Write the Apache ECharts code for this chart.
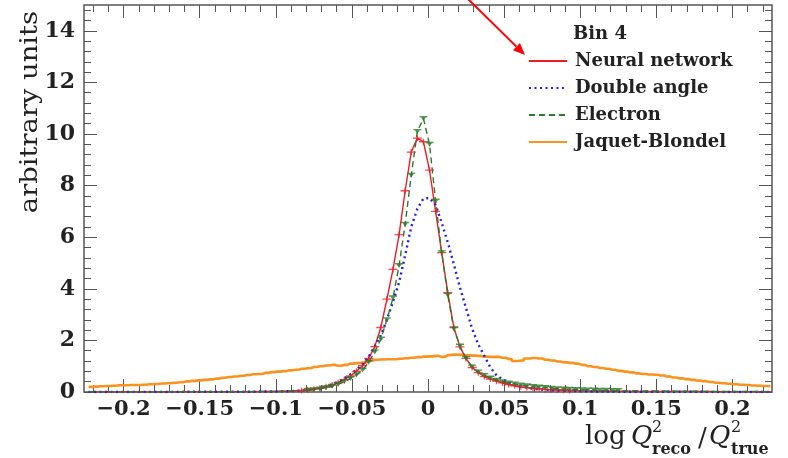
<!DOCTYPE html>
<html><head><meta charset="utf-8">
<script src="https://cdn.jsdelivr.net/npm/echarts@6/dist/echarts.min.js"></script>
<style>html,body{margin:0;padding:0;background:#fff}#c{width:788px;height:458px}</style>
</head><body><div id="c"></div>
<script>
// histogram bin centres (bin width 0.004)
const binCenters = Array.from({length: 113}, (_, i) => Math.round((-0.223 + 0.004 * i) * 1000) / 1000);

const neuralNetwork = [
  0,0,0,0,0,0,0,0,0,0,
  0,0,0,0,0,0,0.01,0.01,0.01,0.01,
  0.01,0.01,0.01,0.01,0.01,0.01,0.01,0.01,0.02,0.02,
  0.02,0.03,0.03,0.04,0.05,0.06,0.08,0.11,0.15,0.2,
  0.27,0.36,0.48,0.62,0.8,1.02,1.3,1.76,2.5,3.6,
  4.75,6.1,7.8,9.3,9.84,9.7,8.6,7.0,5.4,3.85,
  2.5,1.75,1.3,0.95,0.75,0.6,0.5,0.42,0.35,0.29,
  0.24,0.2,0.17,0.14,0.12,0.1,0.09,0.08,0.07,0.06,
  0.05,0.05,0.04,0.04,0.04,0.03,0.03,0.03,0.03,0.02,
  0.02,0.02,0.02,0.02,0.02,0.02,0.02,0.02,0.02,0.02,
  0.02,0.02,0.02,0.01,0.01,0.01,0.01,0.01,0.01,0.01,
  0.01,0.01,0.01
];
const doubleAngle = [
  0,0,0,0,0,0,0,0,0,0,
  0,0,0,0,0,0,0.01,0.01,0.01,0.01,
  0.01,0.01,0.01,0.01,0.01,0.01,0.01,0.01,0.02,0.02,
  0.02,0.02,0.03,0.03,0.04,0.06,0.08,0.11,0.15,0.22,
  0.3,0.4,0.53,0.68,0.86,1.08,1.37,1.76,2.2,2.8,
  3.5,4.25,5.3,6.4,7.1,7.5,7.52,7.25,6.56,5.8,
  4.95,4.05,3.25,2.45,1.85,1.4,0.95,0.65,0.48,0.36,
  0.28,0.22,0.17,0.13,0.1,0.08,0.07,0.06,0.05,0.04,
  0.04,0.03,0.03,0.02,0.02,0.02,0.02,0.01,0.01,0.01,
  0.01,0.01,0.01,0.01,0.01,0.01,0.01,0.01,0.01,0.01,
  0.01,0.01,0,0,0,0,0,0,0,0,
  0,0,0
];
const electron = [
  0,0,0,0,0,0,0,0,0,0,
  0,0,0,0,0,0.01,0.01,0.01,0.01,0.01,
  0.01,0.01,0.01,0.01,0.01,0.01,0.01,0.02,0.02,0.02,
  0.02,0.02,0.03,0.03,0.04,0.05,0.07,0.09,0.12,0.16,
  0.22,0.3,0.4,0.52,0.66,0.85,1.15,1.55,2.05,2.8,
  3.65,4.9,6.5,8.4,10.1,10.6,9.6,7.4,5.4,3.75,
  2.45,1.78,1.3,0.97,0.78,0.64,0.54,0.46,0.4,0.35,
  0.31,0.27,0.24,0.21,0.19,0.17,0.15,0.13,0.12,0.11,
  0.1,0.09,0.08,0.08,0.07,0.07,0.06,0.06,0.05,0.05,
  0.05,0.04,0.04,0.04,0.04,0.03,0.03,0.03,0.03,0.03,
  0.03,0.02,0.02,0.02,0.02,0.02,0.02,0.02,0.02,0.02,
  0.02,0.01,0.01
];
const jaquetBlondel = [
  0.2,0.21,0.22,0.23,0.24,0.26,0.26,0.27,0.27,0.28,
  0.3,0.31,0.33,0.34,0.36,0.38,0.41,0.43,0.45,0.47,
  0.49,0.52,0.55,0.58,0.6,0.63,0.66,0.69,0.7,0.74,
  0.77,0.79,0.81,0.84,0.86,0.9,0.92,0.97,1.0,1.03,
  1.05,1.02,1.05,1.1,1.12,1.14,1.2,1.25,1.26,1.27,
  1.27,1.29,1.31,1.33,1.35,1.37,1.38,1.4,1.36,1.43,
  1.45,1.44,1.42,1.41,1.4,1.37,1.36,1.36,1.33,1.28,
  1.2,1.22,1.3,1.32,1.3,1.25,1.22,1.18,1.15,1.13,
  1.1,1.05,1.0,0.97,0.93,0.9,0.86,0.82,0.79,0.76,
  0.72,0.7,0.68,0.67,0.64,0.6,0.56,0.53,0.5,0.47,
  0.44,0.42,0.39,0.36,0.34,0.32,0.3,0.28,0.27,0.25,
  0.24,0.23,0.22
];
const seriesNames = ['Neural network', 'Double angle', 'Electron', 'Jaquet-Blondel'];
const legendTitle = 'Bin 4';
const xTickLabels = [-0.2, -0.15, -0.1, -0.05, 0, 0.05, 0.1, 0.15, 0.2];
const yTickLabels = [0, 2, 4, 6, 8, 10, 12, 14];
const xMinorTicks = Array.from({length: 45}, (_, k) => (k - 22) / 100);
const yMinorTicks = Array.from({length: 38}, (_, k) => Math.round(k * 4) / 10);
const yTitle = 'arbitrary units';

const RED = '#ee1c24', BLUE = '#1f1fe6', GREEN = '#2b7a2b', ORANGE = '#f7931e', AXC = '#555';
const SERIF = "'DejaVu Serif', 'Liberation Serif', serif";

const pair = arr => binCenters.map((x, i) => [x, arr[i]]);

function xAx(pos, vals, len, withLabels) {
  return {
    type: 'value', position: pos, min: -0.226, max: 0.226, gridIndex: 0,
    axisLine: {show: false, onZero: false}, splitLine: {show: false},
    axisTick: {show: true, inside: true, length: len, customValues: vals, lineStyle: {color: AXC, width: 1}},
    axisLabel: withLabels ? {
      show: true, customValues: vals, margin: 7,
      fontFamily: SERIF, fontWeight: 'bold', fontSize: 21, color: '#222',
      formatter: v => (v < 0 ? '\u2212' : '') + String(Math.abs(+v.toFixed(3)))
    } : {show: false}
  };
}
function yAx(pos, vals, len, withLabels) {
  return {
    type: 'value', position: pos, min: 0, max: 15, gridIndex: 0,
    axisLine: {show: false, onZero: false}, splitLine: {show: false},
    axisTick: {show: true, inside: true, length: len, customValues: vals, lineStyle: {color: AXC, width: 1}},
    axisLabel: withLabels ? {
      show: true, customValues: vals, margin: 9,
      fontFamily: SERIF, fontWeight: 'bold', fontSize: 22, color: '#222'
    } : {show: false}
  };
}

// arrow annotation
const arrowTail = [467, -2], arrowTip = [525, 55];
const ang = Math.atan2(arrowTip[1] - arrowTail[1], arrowTip[0] - arrowTail[0]);
const hl = 12, hw = 5;
const bx = arrowTip[0] - hl * Math.cos(ang), by = arrowTip[1] - hl * Math.sin(ang);
const headPts = [arrowTip,
  [bx + hw * Math.sin(ang), by - hw * Math.cos(ang)],
  [bx - hw * Math.sin(ang), by + hw * Math.cos(ang)]];

const redMarker = 'path://M0,2.6h10v1.4h-10z M4.3,0h1.4v6.6h-1.4z';
const greenMarker = 'path://M0,0h10v1.6h-10z M2,1.6h6l-3,4.4z';

const chart = echarts.init(document.getElementById('c'), null, {renderer: 'canvas'});
chart.setOption({
  animation: false,
  backgroundColor: '#fff',
  grid: {left: 84, right: 16, top: 5, bottom: 66, show: true, borderColor: AXC, borderWidth: 1.5, backgroundColor: 'transparent'},
  title: {text: legendTitle, left: 573, top: 25, padding: 0, textStyle: {fontFamily: SERIF, fontWeight: 'bold', fontSize: 18, color: '#222'}},
  legend: {
    orient: 'vertical', left: 528, top: 52, padding: 0, itemWidth: 38, itemHeight: 14, itemGap: 9,
    data: seriesNames, selectedMode: false,
    itemStyle: {opacity: 0},
    textStyle: {fontFamily: SERIF, fontWeight: 'bold', fontSize: 18, color: '#222', padding: [0, 0, 0, 3]}
  },
  xAxis: [xAx('bottom', xTickLabels, 13, true), xAx('top', xTickLabels, 13, false),
          xAx('bottom', xMinorTicks, 7, false), xAx('top', xMinorTicks, 7, false)],
  yAxis: [yAx('left', yTickLabels, 13, true), yAx('right', yTickLabels, 13, false),
          yAx('left', yMinorTicks, 7, false), yAx('right', yMinorTicks, 7, false)],
  series: [
    {type: 'line', name: seriesNames[3], data: pair(jaquetBlondel), symbol: 'none', step: 'middle',
     lineStyle: {color: ORANGE, width: 2.6}, itemStyle: {color: ORANGE}, z: 2},
    {type: 'line', name: seriesNames[0], data: pair(neuralNetwork), symbol: 'none',
     lineStyle: {color: RED, width: 1.4}, itemStyle: {color: RED}, z: 3},
    {type: 'line', name: seriesNames[1], data: pair(doubleAngle), symbol: 'none',
     lineStyle: {color: BLUE, width: 2.4, type: [2, 3.5]}, itemStyle: {color: BLUE}, z: 3},
    {type: 'line', name: seriesNames[2], data: pair(electron), symbol: 'none',
     lineStyle: {color: GREEN, width: 1.4, type: [6, 4]}, itemStyle: {color: GREEN}, z: 4},
    {type: 'scatter', data: pair(neuralNetwork).filter(p => p[1] > 0.05), symbol: redMarker, symbolSize: [9, 6],
     itemStyle: {color: RED}, silent: true, z: 5},
    {type: 'scatter', data: pair(electron).filter(p => p[1] > 0.05), symbol: greenMarker, symbolSize: [8, 5],
     itemStyle: {color: GREEN}, silent: true, z: 6}
  ],
  graphic: [
    {type: 'text', x: 31, y: 112, rotation: Math.PI / 2, scaleX: 1.14,
     style: {text: yTitle, font: "24px " + SERIF, fill: '#222', align: 'center', verticalAlign: 'middle'}},
    {type: 'text', x: 585, y: 437, style: {text: 'log', font: "26px " + SERIF, fill: '#222', verticalAlign: 'middle'}},
    {type: 'text', x: 631, y: 437, style: {text: 'Q', font: "italic 26px " + SERIF, fill: '#222', verticalAlign: 'middle'}},
    {type: 'text', x: 652, y: 428, style: {text: '2', font: "16px " + SERIF, fill: '#222', verticalAlign: 'middle'}},
    {type: 'text', x: 652, y: 450, style: {text: 'reco', font: "bold 16px " + SERIF, fill: '#222', verticalAlign: 'middle'}},
    {type: 'text', x: 698, y: 439, style: {text: '/', font: "26px " + SERIF, fill: '#222', verticalAlign: 'middle'}},
    {type: 'text', x: 709, y: 437, style: {text: 'Q', font: "italic 26px " + SERIF, fill: '#222', verticalAlign: 'middle'}},
    {type: 'text', x: 731, y: 428, style: {text: '2', font: "16px " + SERIF, fill: '#222', verticalAlign: 'middle'}},
    {type: 'text', x: 731, y: 450, style: {text: 'true', font: "bold 16px " + SERIF, fill: '#222', verticalAlign: 'middle'}},
    {type: 'line', shape: {x1: arrowTail[0], y1: arrowTail[1], x2: bx, y2: by}, style: {stroke: '#ff0000', lineWidth: 2}, z: 100},
    {type: 'polygon', shape: {points: headPts}, style: {fill: '#ff0000'}, z: 100}
  ]
});
</script></body></html>
